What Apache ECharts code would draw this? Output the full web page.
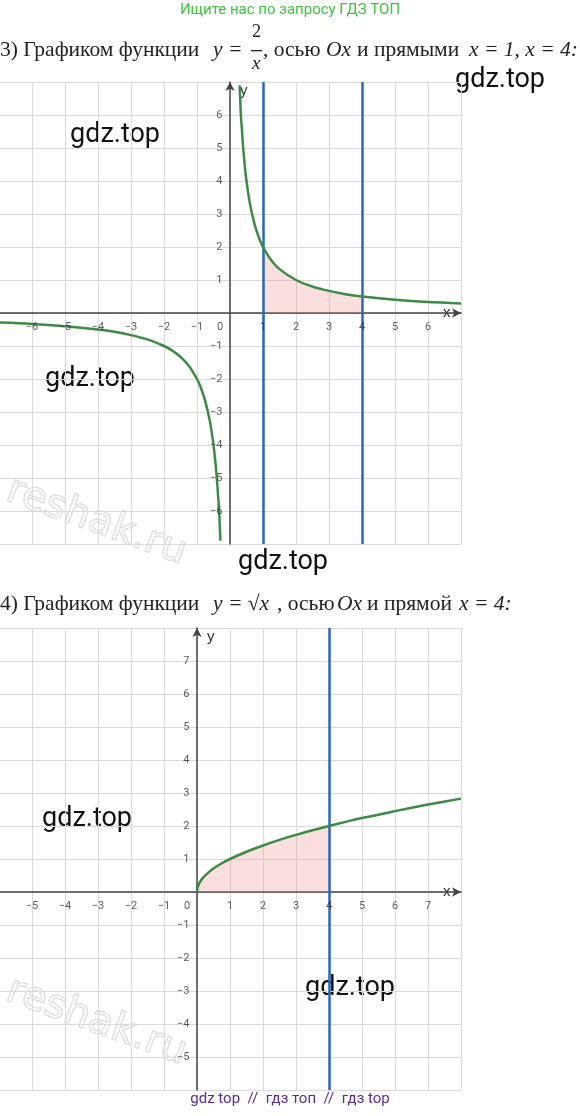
<!DOCTYPE html>
<html><head><meta charset="utf-8">
<script src="https://cdn.jsdelivr.net/npm/echarts@6/dist/echarts.min.js"></script>
<style>html,body{margin:0;background:#fff}#main{width:580px;height:1116px}</style>
</head><body><div id="main"></div>
<script>
// y = 2/x
var hypRightX = [0.29, 0.31, 0.33, 0.36, 0.4, 0.45, 0.5, 0.6, 0.75, 0.9, 1, 1.25, 1.5, 2, 2.5, 3, 3.5, 4, 5, 6, 7]
var hypRightY = [6.9, 6.45, 6, 5.56, 5, 4.44, 4, 3.33, 2.67, 2.22, 2, 1.6, 1.33, 1, 0.8, 0.67, 0.57, 0.5, 0.4, 0.33, 0.29]
var hypLeftX = [-7, -6, -5, -4, -3.5, -3, -2.5, -2, -1.75, -1.5, -1.25, -1, -0.9, -0.75, -0.6, -0.5, -0.45, -0.4, -0.36, -0.33, -0.31, -0.29]
var hypLeftY = [-0.29, -0.33, -0.4, -0.5, -0.57, -0.67, -0.8, -1, -1.14, -1.33, -1.6, -2, -2.22, -2.67, -3.33, -4, -4.44, -5, -5.56, -6, -6.45, -6.9]
var areaOneX = [1, 1.25, 1.5, 2, 2.5, 3, 3.5, 4]
var areaOneY = [2, 1.6, 1.33, 1, 0.8, 0.67, 0.57, 0.5]
// y = sqrt(x)
var rootX = [0, 0.02, 0.05, 0.1, 0.2, 0.3, 0.5, 0.75, 1, 1.5, 2, 2.5, 3, 3.5, 4, 5, 6, 7, 8]
var rootY = [0, 0.14, 0.22, 0.32, 0.45, 0.55, 0.71, 0.87, 1, 1.22, 1.41, 1.58, 1.73, 1.87, 2, 2.24, 2.45, 2.65, 2.83]
var areaTwoN = 15
var linesOne = [1, 4]
var linesTwo = [4]
// tick labels
var ticksXOne = [-6, -5, -4, -3, -2, -1, 1, 2, 3, 4, 5, 6]
var ticksYOne = [-6, -5, -4, -3, -2, -1, 1, 2, 3, 4, 5, 6]
var ticksXTwo = [-5, -4, -3, -2, -1, 1, 2, 3, 4, 5, 6, 7]
var ticksYTwo = [-5, -4, -3, -2, -1, 1, 2, 3, 4, 5, 6, 7]

function zip(a, b) { return a.map(function (v, i) { return [v, b[i]] }) }

var green = '#3d8a45', blue = '#2a66be', pink = 'rgba(240,130,130,0.38)'

function xAx(idx, min, max) {
  return {
    gridIndex: idx, type: 'value', min: min, max: max, interval: 1,
    name: 'x', nameLocation: 'end', nameGap: -18,
    nameTextStyle: { color: '#333', fontSize: 15, padding: [0, 0, 24, 0] },
    axisLine: { onZero: true, lineStyle: { color: '#444', width: 1.5 }, symbol: ['none', 'arrow'], symbolSize: [7, 9] },
    axisTick: { show: false }, axisLabel: { show: false },
    splitLine: { lineStyle: { color: '#dadada' } }
  }
}
function yAx(idx, min, max) {
  return {
    gridIndex: idx, type: 'value', min: min, max: max, interval: 1,
    name: 'y', nameLocation: 'end', nameGap: -16,
    nameTextStyle: { color: '#333', fontSize: 15, align: 'left', padding: [0, 0, 0, 10] },
    axisLine: { onZero: true, lineStyle: { color: '#444', width: 1.5 }, symbol: ['none', 'arrow'], symbolSize: [7, 9] },
    axisTick: { show: false }, axisLabel: { show: false },
    splitLine: { lineStyle: { color: '#dadada' } }
  }
}
function vlines(vals) {
  return { silent: true, symbol: 'none', label: { show: false }, lineStyle: { color: blue, width: 2.5, type: 'solid' },
    data: vals.map(function (v) { return { xAxis: v } }) }
}
function curve(xi, data) {
  return { type: 'line', xAxisIndex: xi, yAxisIndex: xi, data: data, smooth: 0.3, showSymbol: false,
    lineStyle: { color: green, width: 2.5 }, z: 5 }
}
function lbl(v) { return String(v).replace('-', '−') }
function tickSeries(xi, xs, ys) {
  var d = xs.map(function (v) { return { value: [v, 0], label: { position: 'bottom', distance: 8 } } })
    .concat(ys.map(function (v) { return { value: [0, v], label: { position: 'left', distance: 7 } } }))
    .concat([{ value: [0, 0], name: '0', label: { position: 'bottom', distance: 8, offset: [-10, 0] } }])
  return { type: 'scatter', xAxisIndex: xi, yAxisIndex: xi, symbolSize: 1, itemStyle: { color: 'rgba(0,0,0,0)' }, silent: true, z: 6,
    data: d, label: { show: true, fontSize: 11, color: '#333', fontFamily: 'Roboto',
      formatter: function (p) { return p.value[1] === 0 ? lbl(p.value[0]) : lbl(p.value[1]) } } }
}

function txt(x, y, t, size, color, font, extra) {
  var o = { type: 'text', left: x, top: y, style: { text: t, fontSize: size, fill: color, fontFamily: font || 'Roboto' } }
  for (var k in extra) o.style[k] = extra[k]
  return o
}
var serif = 'Liberation Serif', hs = 21.5, it = { fontStyle: 'italic' }
var wm = [[70, 122], [455, 67], [45, 366], [238, 549], [42, 806], [305, 975]]
function mark(y) {
  return { type: 'text', left: 0, top: y, rotation: -0.35, style: { text: 'reshak.ru', fontSize: 40, fill: 'rgba(0,0,0,0)', stroke: 'rgba(0,0,0,0.13)', lineWidth: 1.5, fontFamily: 'DejaVu Sans' } }
}

var option = {
  animation: false,
  grid: [
    { left: -1, top: 82, width: 462, height: 462, outerBoundsMode: 'none', containLabel: false },
    { left: -1, top: 628, width: 462, height: 462, outerBoundsMode: 'none', containLabel: false }
  ],
  xAxis: [xAx(0, -7, 7), xAx(1, -6, 8)],
  yAxis: [yAx(0, -7, 7), yAx(1, -6, 8)],
  series: [
    { type: 'line', xAxisIndex: 0, yAxisIndex: 0, data: zip(areaOneX, areaOneY), smooth: 0.3, showSymbol: false,
      lineStyle: { width: 0 }, areaStyle: { color: pink }, z: 2, markLine: vlines(linesOne) },
    curve(0, zip(hypRightX, hypRightY)),
    curve(0, zip(hypLeftX, hypLeftY)),
    tickSeries(0, ticksXOne, ticksYOne),
    { type: 'line', xAxisIndex: 1, yAxisIndex: 1, data: zip(rootX.slice(0, areaTwoN), rootY.slice(0, areaTwoN)), smooth: 0.3,
      showSymbol: false, lineStyle: { width: 0 }, areaStyle: { color: pink }, z: 2, markLine: vlines(linesTwo) },
    curve(1, zip(rootX, rootY)),
    tickSeries(1, ticksXTwo, ticksYTwo)
  ],
  graphic: [
    txt('center', 3, 'Ищите нас по запросу ГДЗ ТОП', 15, '#3ec43e'),
    txt(0, 39, '3) Графиком функции', hs, '#222', serif),
    txt(213, 39, 'y =', hs, '#222', serif, it),
    txt(252, 23, '2', 18, '#222', serif),
    { type: 'rect', left: 251, top: 50, shape: { width: 11, height: 1.3 }, style: { fill: '#222' } },
    txt(252, 54, 'x', 19, '#222', serif, it),
    txt(263, 39, ', осью', hs, '#222', serif),
    txt(326, 39, 'Ox', hs, '#222', serif, it),
    txt(357, 39, 'и прямыми', hs, '#222', serif),
    txt(469, 39, 'x = 1, x = 4:', hs, '#222', serif, it),
    txt(0, 593, '4) Графиком функции', hs, '#222', serif),
    txt(213, 593, 'y = √x', hs, '#222', serif, it),
    txt(277, 593, ', осью', hs, '#222', serif),
    txt(337, 593, 'Ox', hs, '#222', serif, it),
    txt(367, 593, 'и прямой', hs, '#222', serif),
    txt(459, 593, 'x = 4:', hs, '#222', serif, it),
    txt('center', 1092, 'gdz top  //  гдз топ  //  гдз top', 15, '#5a2c9a'),
    mark(470), mark(970)
  ].concat(wm.map(function (p) { return txt(p[0], p[1], 'gdz.top', 27, '#111') }))
}
var myChart = echarts.init(document.getElementById('main'))
myChart.setOption(option)
</script></body></html>
